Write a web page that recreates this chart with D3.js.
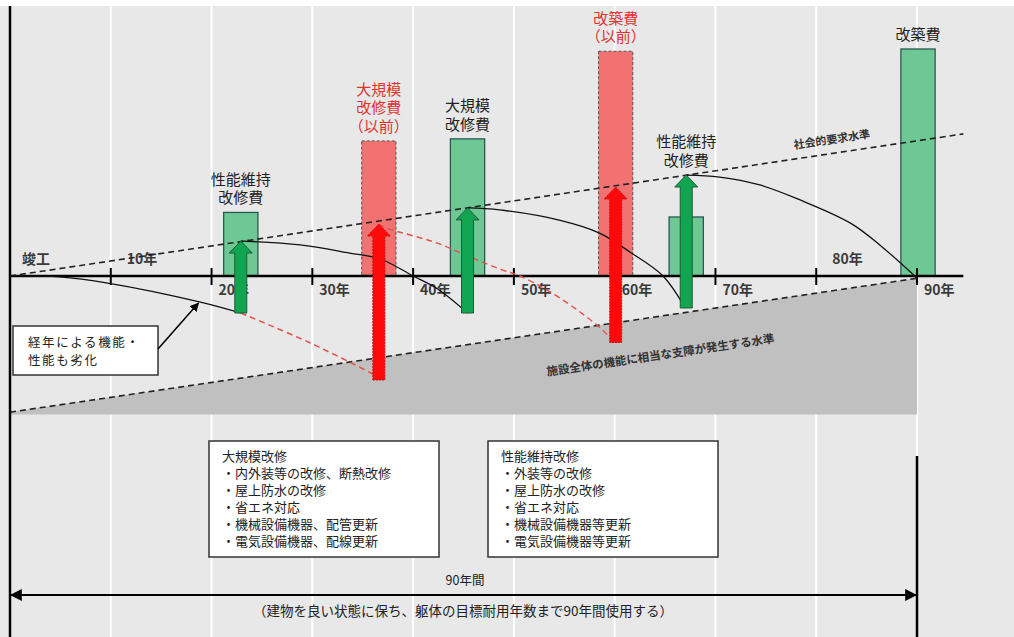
<!DOCTYPE html>
<html>
<head>
<meta charset="utf-8">
<script src="https://cdn.jsdelivr.net/npm/d3@7"></script>
<style>
  html, body { margin: 0; padding: 0; background: #fff; }
  svg { display: block; font-family: 'Noto Sans CJK JP', 'Noto Sans', sans-serif; }
</style>
</head>
<body>
<svg id="chart" width="1014" height="637"></svg>
<script>
'use strict';

// timeline (years after completion)
var tickYears = [0, 10, 20, 30, 40, 50, 60, 70, 80, 90];
var tickLabels = ['竣工', '10年', '20年', '30年', '40年', '50年', '60年', '70年', '80年', '90年'];

// cost bars: centre year, height (performance level units), kind
var barNames = [['性能維持', '改修費'], ['大規模', '改修費', '（以前）'], ['大規模', '改修費'],
    ['改築費', '（以前）'], ['性能維持', '改修費'], ['改築費']];
var barYears = [22.9, 36.6, 45.4, 60.1, 67.1, 90.1];
var barValues = [28, 59.5, 60.4, 99, 26, 100];
var barKinds = ['new', 'old', 'new', 'old', 'new', 'new'];

// recovery arrows
var arrowYears = [22.9, 36.6, 45.4, 60.1, 67.1];
var arrowFrom = [-16.3, -45.8, -16.3, -29.3, -14.1];
var arrowTo = [15.4, 22.9, 30, 39.2, 44.5];
var arrowKinds = ['new', 'old', 'new', 'old', 'new'];

// reference levels [year, level]
var socialLevel = [[0, 0], [94.6, 62.6]];
var criticalLevel = [[0, -60], [90, -1]];
var criticalFloor = -61;

// deterioration curves [year, level]
var decayCurves = [
    [[0, 0], [4.9, -0.4], [9.7, -3.1], [18.9, -11.5], [22.9, -16.3]],
    [[22.9, 15.4], [28.8, 13.7], [33.7, 10.1], [36.7, 7.6], [40.0, 0], [42.4, -5.6], [45.4, -16.3]],
    [[45.4, 30], [48.6, 29.1], [54.6, 24.5], [58.5, 18.9], [61.5, 10.6], [64.8, 0], [67.0, -14.1]],
    [[67.1, 44.4], [70.4, 43.6], [74.4, 40.1], [78.4, 33.5], [83.4, 23.3], [86.3, 13.7], [90, -0.9]]
];
var oldDecayCurves = [
    [[22.9, -16.3], [29.8, -29.5], [36.6, -44.5]],
    [[36.6, 22.9], [37.4, 21.1], [42.4, 14.5], [45.6, 8.4], [48.9, 2.6], [50.6, 0], [53.3, -6.2], [56.3, -15.0], [58.8, -23.8], [60.0, -29.3]]
];

// notes
var agingNote = ['経年による機能・', '性能も劣化'];
var largeRepairItems = ['大規模改修', '・内外装等の改修、断熱改修', '・屋上防水の改修', '・省エネ対応',
    '・機械設備機器、配管更新', '・電気設備機器、配線更新'];
var keepRepairItems = ['性能維持改修', '・外装等の改修', '・屋上防水の改修', '・省エネ対応',
    '・機械設備機器等更新', '・電気設備機器等更新'];
var socialLabel = '社会的要求水準';
var criticalLabel = '施設全体の機能に相当な支障が発生する水準';
var spanLabel = '90年間';
var spanNote = '（建物を良い状態に保ち、躯体の目標耐用年数まで90年間使用する）';

var svg = d3.select('#chart');
var width = 1014;
var height = 637;

var x = d3.scaleLinear().domain([0, 90]).range([10, 917]);
var y = d3.scaleLinear().domain([0, 100]).range([276, 49]);

var green = '#6ec893', greenStroke = '#2b5856';
var red = '#f27272';
var arrowGreen = '#12a551', arrowRed = '#ff0a0a';

var defs = svg.append('defs');
defs.append('marker')
    .attr('id', 'head')
    .attr('viewBox', '0 0 10 10')
    .attr('refX', 9).attr('refY', 5)
    .attr('markerWidth', 6).attr('markerHeight', 6)
    .attr('orient', 'auto-start-reverse')
    .append('path').attr('d', 'M0,0L10,5L0,10Z').attr('fill', '#000');

// background + grid
svg.append('rect').attr('x', 0).attr('y', 6).attr('width', width).attr('height', height - 6)
    .attr('fill', '#e8e8e8');
svg.selectAll('.grid')
    .data(tickYears.slice(1))
    .enter().append('line')
    .attr('class', 'grid')
    .attr('x1', function(d) { return x(d); })
    .attr('x2', function(d) { return x(d); })
    .attr('y1', 6)
    .attr('y2', function(d) { return d === 90 ? 456 : height; })
    .attr('stroke', '#fff')
    .attr('stroke-width', 2);

var line = d3.line()
    .x(function(d) { return x(d[0]); })
    .y(function(d) { return y(d[1]); });

// critical zone
var zone = [criticalLevel[0], criticalLevel[1], [criticalLevel[1][0], criticalFloor], [0, criticalFloor]];
svg.append('path')
    .attr('d', line(zone) + 'Z')
    .attr('fill', '#c0c0c0');

svg.append('path')
    .attr('d', line(criticalLevel))
    .attr('fill', 'none')
    .attr('stroke', '#222')
    .attr('stroke-width', 1.6)
    .attr('stroke-dasharray', '6,4');

// bars
var barW = 3.4;
svg.selectAll('.bar')
    .data(barValues)
    .enter().append('rect')
    .attr('class', 'bar')
    .attr('x', function(d, i) { return x(barYears[i] - barW / 2); })
    .attr('width', x(barW) - x(0))
    .attr('y', function(d) { return y(d); })
    .attr('height', function(d) { return y(0) - y(d); })
    .attr('fill', function(d, i) { return barKinds[i] === 'new' ? green : red; })
    .attr('stroke', function(d, i) { return barKinds[i] === 'new' ? greenStroke : '#555'; })
    .attr('stroke-width', function(d, i) { return barKinds[i] === 'new' ? 1.3 : 1; })
    .attr('stroke-dasharray', function(d, i) { return barKinds[i] === 'new' ? null : '3,2'; });

// axis
svg.append('line')
    .attr('x1', x(0)).attr('x2', x(socialLevel[1][0]))
    .attr('y1', y(0)).attr('y2', y(0))
    .attr('stroke', '#000').attr('stroke-width', 2.5);
svg.append('line')
    .attr('x1', x(0)).attr('x2', x(0))
    .attr('y1', 6).attr('y2', height)
    .attr('stroke', '#000').attr('stroke-width', 2.5);
svg.selectAll('.tick')
    .data(tickYears.slice(1))
    .enter().append('line')
    .attr('class', 'tick')
    .attr('x1', function(d) { return x(d); })
    .attr('x2', function(d) { return x(d); })
    .attr('y1', y(0) - 8).attr('y2', y(0) + 9)
    .attr('stroke', '#000').attr('stroke-width', 2);

var aboveAxis = [0, 10, 80];
svg.selectAll('.tick-label')
    .data(tickYears)
    .enter().append('text')
    .attr('class', 'tick-label')
    .attr('x', function(d) { return x(d) + (aboveAxis.indexOf(d) >= 0 ? (d === 0 ? 12 : 16) : 7); })
    .attr('y', function(d) { return aboveAxis.indexOf(d) >= 0 ? y(0) - 12 : y(0) + 19; })
    .attr('font-size', 14)
    .attr('font-weight', 700)
    .attr('fill', '#3a3a3a')
    .text(function(d, i) { return tickLabels[i]; });

// social requirement level
svg.append('path')
    .attr('d', line(socialLevel))
    .attr('fill', 'none')
    .attr('stroke', '#222')
    .attr('stroke-width', 1.6)
    .attr('stroke-dasharray', '6,4');

function lineAngle(pts) {
    var dx = x(pts[1][0]) - x(pts[0][0]);
    var dy = y(pts[1][1]) - y(pts[0][1]);
    return Math.atan2(dy, dx) * 180 / Math.PI;
}
function levelAt(pts, yr) {
    return pts[0][1] + (pts[1][1] - pts[0][1]) * (yr - pts[0][0]) / (pts[1][0] - pts[0][0]);
}

var sx = x(81.6), sy = y(levelAt(socialLevel, 81.6)) - 10;
svg.append('text')
    .attr('transform', 'translate(' + sx + ',' + sy + ') rotate(' + lineAngle(socialLevel) + ')')
    .attr('text-anchor', 'middle')
    .attr('font-size', 11)
    .attr('font-weight', 700)
    .attr('fill', '#333')
    .text(socialLabel);

var cx = x(64.6), cy = y(levelAt(criticalLevel, 64.6)) + 43;
svg.append('text')
    .attr('transform', 'translate(' + cx + ',' + cy + ') rotate(' + lineAngle(criticalLevel) + ')')
    .attr('text-anchor', 'middle')
    .attr('font-size', 11.5)
    .attr('font-weight', 700)
    .attr('fill', '#333')
    .text(criticalLabel);

// curves
var smooth = d3.line()
    .x(function(d) { return x(d[0]); })
    .y(function(d) { return y(d[1]); })
    .curve(d3.curveCatmullRom.alpha(0.5));

svg.selectAll('.decay')
    .data(decayCurves)
    .enter().append('path')
    .attr('class', 'decay')
    .attr('d', smooth)
    .attr('fill', 'none')
    .attr('stroke', '#111')
    .attr('stroke-width', 1.3);

svg.selectAll('.old-decay')
    .data(oldDecayCurves)
    .enter().append('path')
    .attr('class', 'old-decay')
    .attr('d', smooth)
    .attr('fill', 'none')
    .attr('stroke', '#e8504a')
    .attr('stroke-width', 1.5)
    .attr('stroke-dasharray', '6,4');

// arrows
function arrowPath(cx, y0, y1, shaft, head, headH) {
    return 'M' + (cx - shaft / 2) + ',' + y0 +
        'L' + (cx - shaft / 2) + ',' + (y1 + headH) +
        'L' + (cx - head / 2) + ',' + (y1 + headH) +
        'L' + cx + ',' + y1 +
        'L' + (cx + head / 2) + ',' + (y1 + headH) +
        'L' + (cx + shaft / 2) + ',' + (y1 + headH) +
        'L' + (cx + shaft / 2) + ',' + y0 + 'Z';
}
svg.selectAll('.arrow')
    .data(arrowYears)
    .enter().append('path')
    .attr('class', 'arrow')
    .attr('d', function(d, i) {
        return arrowPath(x(d), y(arrowFrom[i]), y(arrowTo[i]), 12, 23, 12);
    })
    .attr('fill', function(d, i) { return arrowKinds[i] === 'new' ? arrowGreen : arrowRed; })
    .attr('stroke', function(d, i) { return arrowKinds[i] === 'new' ? '#1d5a3a' : '#c81010'; })
    .attr('stroke-width', 1)
    .attr('stroke-dasharray', function(d, i) { return arrowKinds[i] === 'new' ? null : '2,1'; });

// bar labels
var lineH = 18.5;
svg.selectAll('.bar-label')
    .data(barNames)
    .enter().append('text')
    .attr('class', 'bar-label')
    .attr('text-anchor', 'middle')
    .attr('font-size', 15)
    .attr('fill', function(d, i) { return barKinds[i] === 'new' ? '#222' : '#e5302d'; })
    .each(function(d, i) {
        var top = y(barValues[i]);
        var ai = arrowYears.indexOf(barYears[i]);
        if (ai >= 0) top = Math.min(top, y(arrowTo[ai]));
        var base = top - 9 - (d.length - 1) * lineH;
        d3.select(this).selectAll('tspan')
            .data(d)
            .enter().append('tspan')
            .attr('x', x(barYears[i]))
            .attr('y', function(t, j) { return base + j * lineH; })
            .text(function(t) { return t; });
    });

// aging note
svg.append('rect')
    .attr('x', 13).attr('y', 326).attr('width', 145).attr('height', 49)
    .attr('fill', '#fff').attr('stroke', '#333').attr('stroke-width', 1.5);
svg.append('text')
    .attr('font-size', 12.5)
    .attr('letter-spacing', 1.6)
    .attr('fill', '#222')
    .selectAll('tspan')
    .data(agingNote)
    .enter().append('tspan')
    .attr('x', 28)
    .attr('y', function(d, i) { return 347 + i * 18; })
    .text(function(d) { return d; });
svg.append('line')
    .attr('x1', 158).attr('y1', 349)
    .attr('x2', x(18.7)).attr('y2', y(-11.5) + 1)
    .attr('stroke', '#000').attr('stroke-width', 1.5)
    .attr('marker-end', 'url(#head)');

// repair boxes
function itemBox(items, bx) {
    svg.append('rect')
        .attr('x', bx).attr('y', 441).attr('width', 230).attr('height', 116)
        .attr('fill', '#fff').attr('stroke', '#333').attr('stroke-width', 1.5);
    svg.append('text')
        .attr('font-size', 13)
        .attr('fill', '#222')
        .selectAll('tspan')
        .data(items)
        .enter().append('tspan')
        .attr('x', bx + 13)
        .attr('y', function(d, i) { return 461 + i * 17; })
        .text(function(d) { return d; });
}
itemBox(largeRepairItems, 209);
itemBox(keepRepairItems, 488);

// 90-year span
svg.append('line')
    .attr('x1', x(90)).attr('x2', x(90))
    .attr('y1', 456).attr('y2', height)
    .attr('stroke', '#000').attr('stroke-width', 2.5);
svg.append('line')
    .attr('x1', x(0) + 1).attr('x2', x(90) - 1)
    .attr('y1', 595).attr('y2', 595)
    .attr('stroke', '#000').attr('stroke-width', 2)
    .attr('marker-start', 'url(#head)')
    .attr('marker-end', 'url(#head)');
svg.append('text')
    .attr('x', 465).attr('y', 585)
    .attr('text-anchor', 'middle')
    .attr('font-size', 12.5)
    .attr('fill', '#222')
    .text(spanLabel);
svg.append('text')
    .attr('x', 463).attr('y', 616)
    .attr('text-anchor', 'middle')
    .attr('font-size', 13.5)
    .attr('fill', '#222')
    .text(spanNote);
</script>
</body>
</html>
